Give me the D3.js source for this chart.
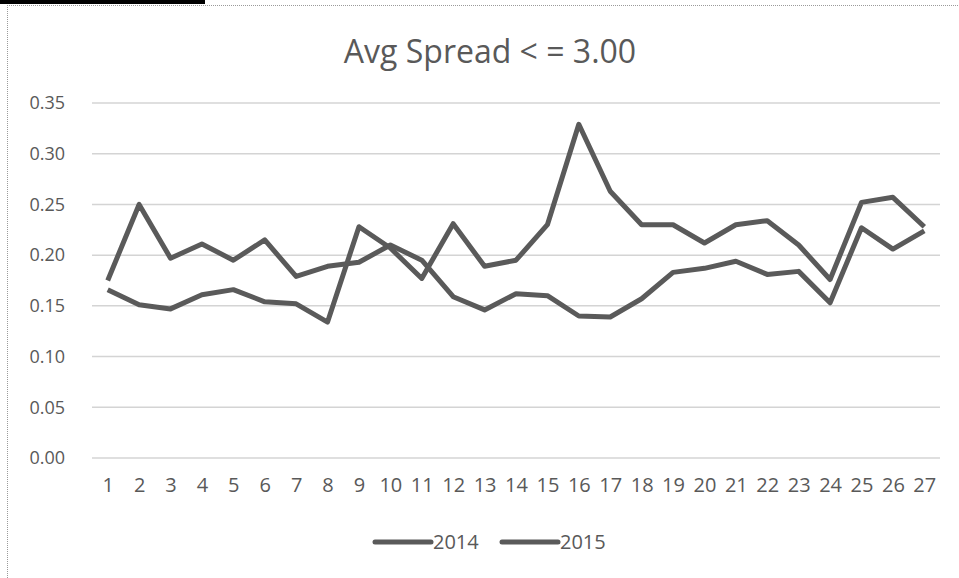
<!DOCTYPE html>
<html>
<head>
<meta charset="utf-8">
<script src="https://cdn.jsdelivr.net/npm/d3@7"></script>
<style>
  body { margin: 0; background: #fff; }
  svg { display: block; font-family: 'Open Sans', sans-serif; }
</style>
</head>
<body>
<div id="container"></div>
<script>
// data
var days = d3.range(1, 28);
var seriesNames = ['2014', '2015'];
var spread2014 = [0.175, 0.250, 0.197, 0.211, 0.195, 0.215, 0.179, 0.189, 0.193, 0.210,
                  0.195, 0.159, 0.146, 0.162, 0.160, 0.140, 0.139, 0.157, 0.183, 0.187,
                  0.194, 0.181, 0.184, 0.153, 0.227, 0.206, 0.224];
var spread2015 = [0.166, 0.151, 0.147, 0.161, 0.166, 0.154, 0.152, 0.134, 0.228, 0.207,
                  0.177, 0.231, 0.189, 0.195, 0.230, 0.329, 0.263, 0.230, 0.230, 0.212,
                  0.230, 0.234, 0.210, 0.176, 0.252, 0.257, 0.228];
var yTicks = [0, 0.05, 0.10, 0.15, 0.20, 0.25, 0.30, 0.35];

var width = 959, height = 578;
var plotLeft = 92, plotRight = 940, plotTop = 103, plotBottom = 458;
var lineColor = '#5a5a5a', textColor = '#595959';

var svg = d3.select('#container').append('svg')
    .attr('width', width)
    .attr('height', height);

// black tab top-left and dotted chart border
svg.append('rect').attr('x', 0).attr('y', 0).attr('width', 205).attr('height', 4).attr('fill', '#000');
svg.append('line').attr('x1', 7).attr('x2', width).attr('y1', 5.5).attr('y2', 5.5)
    .attr('stroke', '#9a9a9a').attr('stroke-dasharray', '1,1');
svg.append('line').attr('x1', 7.5).attr('x2', 7.5).attr('y1', 5).attr('y2', height)
    .attr('stroke', '#9a9a9a').attr('stroke-dasharray', '1,1');

var x = d3.scalePoint().domain(days).range([plotLeft, plotRight]).padding(0.5);
var y = d3.scaleLinear().domain([0, 0.35]).range([plotBottom, plotTop]);

// gridlines
svg.append('g').selectAll('line')
    .data(yTicks)
    .enter().append('line')
    .attr('x1', plotLeft).attr('x2', plotRight)
    .attr('y1', function (d) { return y(d); })
    .attr('y2', function (d) { return y(d); })
    .attr('stroke', '#d4d4d4')
    .attr('stroke-width', 1.5);

// y axis labels
var yAxis = d3.axisLeft(y).tickValues(yTicks).tickFormat(d3.format('.2f')).tickSize(0).tickPadding(27);
var gy = svg.append('g').attr('transform', 'translate(' + plotLeft + ',0)').call(yAxis);
gy.select('.domain').remove();
gy.selectAll('text').attr('fill', textColor).style('font-size', '18px').style('font-family', "'Open Sans', sans-serif");

// x axis labels
var xAxis = d3.axisBottom(x).tickSize(0).tickPadding(20);
var gx = svg.append('g').attr('transform', 'translate(0,' + plotBottom + ')').call(xAxis);
gx.select('.domain').remove();
gx.selectAll('text').attr('fill', textColor).style('font-size', '20px').style('font-family', "'Open Sans', sans-serif");

// lines
var line = d3.line()
    .x(function (d, i) { return x(days[i]); })
    .y(function (d) { return y(d); });

[spread2014, spread2015].forEach(function (s) {
    svg.append('path')
        .datum(s)
        .attr('d', line)
        .attr('fill', 'none')
        .attr('stroke', lineColor)
        .attr('stroke-width', 5)
        .attr('stroke-linejoin', 'round');
});

// title
svg.append('text')
    .attr('x', 490).attr('y', 63)
    .attr('text-anchor', 'middle')
    .attr('fill', textColor)
    .style('font-size', '32px')
    .text('Avg Spread < = 3.00');

// legend
var legendX = [375, 502];
seriesNames.forEach(function (name, i) {
    svg.append('line')
        .attr('x1', legendX[i]).attr('x2', legendX[i] + 56)
        .attr('y1', 542).attr('y2', 542)
        .attr('stroke', lineColor).attr('stroke-width', 5).attr('stroke-linecap', 'round');
    svg.append('text')
        .attr('x', legendX[i] + 58).attr('y', 549)
        .attr('fill', textColor)
        .style('font-size', '20px')
        .text(name);
});
</script>
</body>
</html>
